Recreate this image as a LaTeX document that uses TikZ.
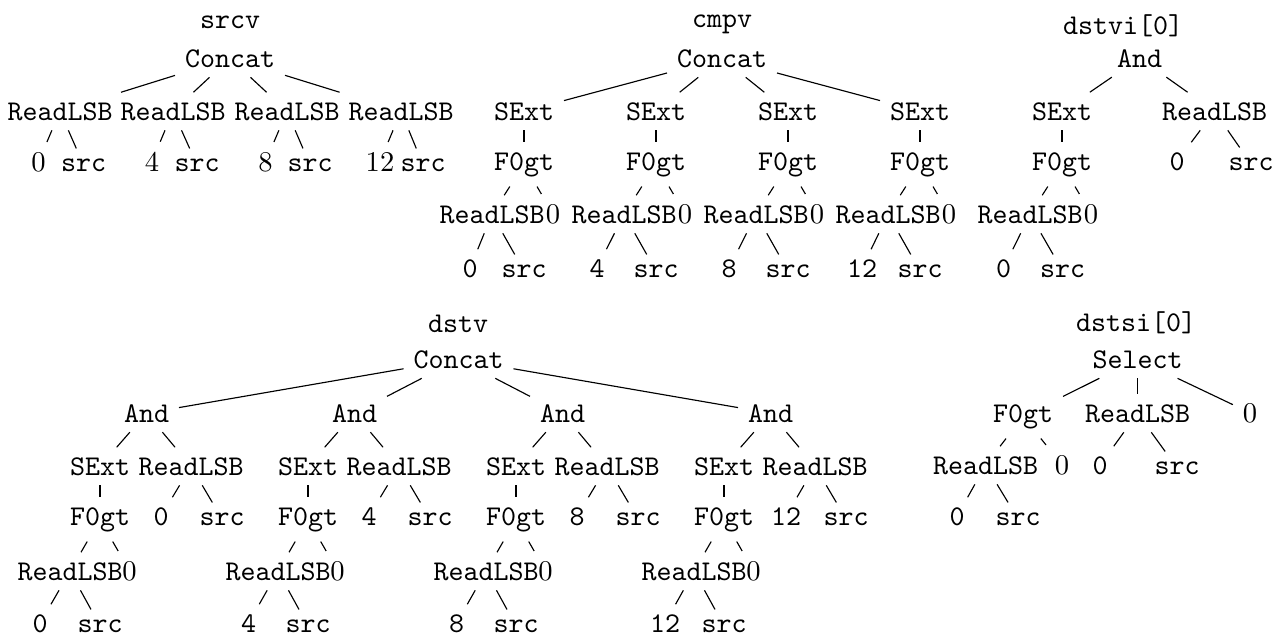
\documentclass[tikz,border=0pt]{standalone}
\begin{document}
\begin{tikzpicture}[x=0.35pt,y=-0.35pt,
  tn/.style={font=\ttfamily, inner sep=3.3pt, anchor=base},
  rn/.style={font=\rmfamily, inner sep=3.3pt, anchor=base},
  edg/.style={line width=0.4pt}]
\path[use as bounding box] (0,0) rectangle (1287,639);

% ---------------- srcv ----------------
\node[tn] (st) at (230,28) {srcv};
\node[tn] (sr) at (230,67) {Concat};
\foreach \k/\ax/\nx/\sx/\n in {1/60/38.5/83.5/0, 2/173/152/197/4, 3/287/265.5/310/8, 4/401/380/423/12} {
  \node[tn] (sa\k) at (\ax,120) {ReadLSB};
  \node[rn] (sn\k) at (\nx,171) {\n};
  \node[tn] (ss\k) at (\sx,171) {src};
  \draw[edg] (sr) -- (sa\k);
  \draw[edg] (sa\k) -- (sn\k);
  \draw[edg] (sa\k) -- (ss\k);
}

% ---------------- cmpv ----------------
\node[tn] (ct) at (722,27) {cmpv};
\node[tn] (cr) at (722,67) {Concat};
\foreach \k/\n/\nx in {0/0/470, 1/4/597, 2/8/729, 3/12/862} {
  \pgfmathsetmacro\dx{132*\k}
  \node[tn] (ce\k) at (524+\dx,120) {SExt};
  \node[tn] (cf\k) at (524+\dx,170) {F0gt};
  \node[tn] (cl\k) at (492+\dx,223) {ReadLSB};
  \node[rn] (cz\k) at (553+\dx,223) {0};
  \node[tn] (cn\k) at (\nx,277) {\n};
  \node[tn] (cs\k) at (524+\dx,277) {src};
  \draw[edg] (cr) -- (ce\k);
  \draw[edg] (ce\k) -- (cf\k);
  \draw[edg] (cf\k) -- (cl\k);
  \draw[edg] (cf\k) -- (cz\k);
  \draw[edg] (cl\k) -- (cn\k);
  \draw[edg] (cl\k) -- (cs\k);
}

% ---------------- dstvi[0] ----------------
\node[tn] (it) at (1123,34) {dstvi[0]};
\node[tn] (ir) at (1139.5,67) {And};
\node[tn] (ie) at (1062,120) {SExt};
\node[tn] (ia) at (1214.5,120) {ReadLSB};
\node[tn] (if) at (1062,170) {F0gt};
\node[tn] (ian) at (1177,170) {0};
\node[tn] (ias) at (1251,170) {src};
\node[tn] (il) at (1030,223) {ReadLSB};
\node[rn] (iz) at (1091,223) {0};
\node[tn] (iln) at (1003.5,277) {0};
\node[tn] (ils) at (1062.5,277) {src};
\draw[edg] (ir) -- (ie);
\draw[edg] (ir) -- (ia);
\draw[edg] (ia) -- (ian);
\draw[edg] (ia) -- (ias);
\draw[edg] (ie) -- (if);
\draw[edg] (if) -- (il);
\draw[edg] (if) -- (iz);
\draw[edg] (il) -- (iln);
\draw[edg] (il) -- (ils);

% ---------------- dstv ----------------
\node[tn] (dt) at (458,332) {dstv};
\node[tn] (dr) at (458.5,368) {Concat};
\foreach \k/\n/\nx/\bx in {0/0/161/40, 1/4/369/248.5, 2/8/577/456.5, 3/12/786/665} {
  \pgfmathsetmacro\dx{208*\k}
  \node[tn] (dd\k) at (146.5+\dx,422) {And};
  \node[tn] (de\k) at (100+\dx,475) {SExt};
  \node[tn] (da\k) at (191+\dx,475) {ReadLSB};
  \node[tn] (df\k) at (100+\dx,525) {F0gt};
  \node[tn] (dan\k) at (\nx,525) {\n};
  \node[tn] (das\k) at (222+\dx,525) {src};
  \node[tn] (dl\k) at (70+\dx,580) {ReadLSB};
  \node[rn] (dz\k) at (129.5+\dx,580) {0};
  \node[tn] (dln\k) at (\bx,632) {\n};
  \node[tn] (dls\k) at (100+\dx,632) {src};
  \draw[edg] (dr) -- (dd\k);
  \draw[edg] (dd\k) -- (de\k);
  \draw[edg] (dd\k) -- (da\k);
  \draw[edg] (da\k) -- (dan\k);
  \draw[edg] (da\k) -- (das\k);
  \draw[edg] (de\k) -- (df\k);
  \draw[edg] (df\k) -- (dl\k);
  \draw[edg] (df\k) -- (dz\k);
  \draw[edg] (dl\k) -- (dln\k);
  \draw[edg] (dl\k) -- (dls\k);
}

% ---------------- dstsi[0] ----------------
\node[tn] (xt) at (1136,331) {dstsi[0]};
\node[tn] (xr) at (1137.5,368) {Select};
\node[tn] (xf) at (1023,422) {F0gt};
\node[tn] (xa) at (1137.5,422) {ReadLSB};
\node[rn] (xz) at (1250,422) {0};
\node[tn] (xl) at (985.5,474) {ReadLSB};
\node[rn] (xfz) at (1062,474) {0};
\node[tn] (xan) at (1100,474) {0};
\node[tn] (xas) at (1177,474) {src};
\node[tn] (xln) at (957,525) {0};
\node[tn] (xls) at (1018,525) {src};
\draw[edg] (xr) -- (xf);
\draw[edg] (xr) -- (xa);
\draw[edg] (xr) -- (xz);
\draw[edg] (xf) -- (xl);
\draw[edg] (xf) -- (xfz);
\draw[edg] (xa) -- (xan);
\draw[edg] (xa) -- (xas);
\draw[edg] (xl) -- (xln);
\draw[edg] (xl) -- (xls);
\end{tikzpicture}
\end{document}
